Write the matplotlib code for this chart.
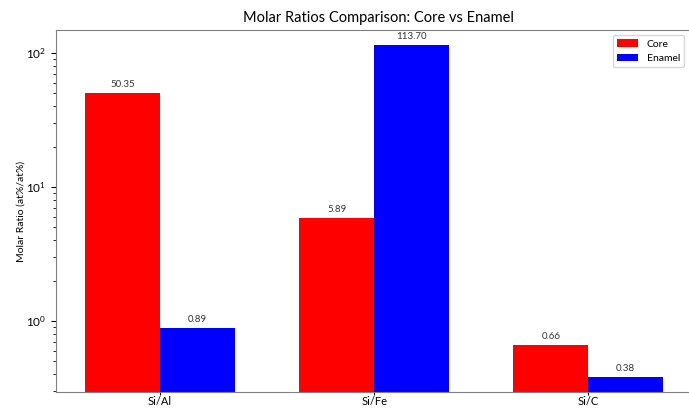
import matplotlib
matplotlib.use("Agg")
import matplotlib.pyplot as plt
import numpy as np

# Dados
categorias = ["Si/Al", "Si/Fe", "Si/C"]
core = [50.35, 5.89, 0.66]
enamel = [0.89, 113.70, 0.38]

plt.rcParams['font.family'] = ['Lato', 'DejaVu Sans']

fig = plt.figure(figsize=(6.89, 4.08), dpi=100)
ax = fig.add_axes([0.0813, 0.039, 0.935, 0.8875])

x = np.arange(len(categorias))
largura = 0.35

barras_core = ax.bar(x - largura / 2, core, largura, label="Core", color="red")
barras_enamel = ax.bar(x + largura / 2, enamel, largura, label="Enamel", color="blue")

ax.set_yscale("log")
ax.set_ylim(0.295, 148)
ax.set_xlim(-0.486, 2.523)

# Valores em cima das barras
for barras in (barras_core, barras_enamel):
    for b in barras:
        h = b.get_height()
        ax.annotate(f"{h:.2f}", xy=(b.get_x() + b.get_width() / 2, h),
                    xytext=(0, 3), textcoords="offset points",
                    ha="center", va="bottom", fontsize=7, color="#333333")

ax.set_xticks(x)
ax.set_xticklabels(categorias, fontsize=8)
ax.tick_params(axis="x", length=2, pad=1)
ax.tick_params(axis="y", labelsize=8.5)
ax.set_ylabel("Molar Ratio (at%/at%)", fontsize=7.5, labelpad=0)
ax.set_title("Molar Ratios Comparison: Core vs Enamel", fontsize=10.5)
ax.legend(fontsize=7.5, loc="upper right", bbox_to_anchor=(0.983, 1.0))

for s in ax.spines.values():
    s.set_color("#808080")

fig.savefig("out.png", dpi=100)
